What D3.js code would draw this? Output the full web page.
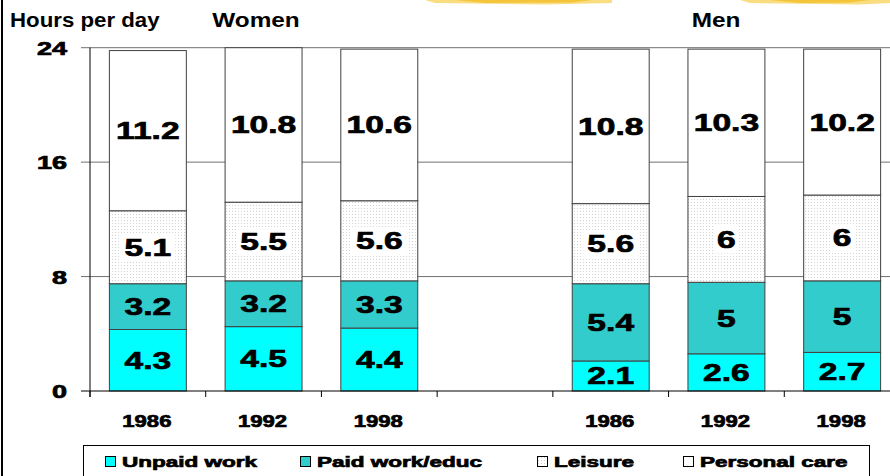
<!DOCTYPE html>
<html>
<head>
<meta charset="utf-8">
<script src="https://cdn.jsdelivr.net/npm/d3@7"></script>
<style>
  body { margin: 0; background: #fff; }
  svg { display: block; }
  text { font-family: "Liberation Sans", Arial, sans-serif; font-weight: bold; fill: #000; }
  text.heavy { stroke: #000; stroke-width: 0.7px; }
</style>
</head>
<body>
<svg width="890" height="476"></svg>
<script>
const groups = ["Women", "Men"];
const years = ["1986", "1992", "1998"];
const slots = ["W1986", "W1992", "W1998", "gap", "M1986", "M1992", "M1998"];
const slotLabels = ["1986", "1992", "1998", "", "1986", "1992", "1998"];
const bars = ["W1986", "W1992", "W1998", "M1986", "M1992", "M1998"];

const unpaidWork = [4.3, 4.5, 4.4, 2.1, 2.6, 2.7];
const paidWork = [3.2, 3.2, 3.3, 5.4, 5, 5];
const leisure = [5.1, 5.5, 5.6, 5.6, 6, 6];
const personalCare = [11.2, 10.8, 10.6, 10.8, 10.3, 10.2];

const seriesNames = ["Unpaid work", "Paid work/educ", "Leisure", "Personal care"];
const yTicks = [0, 8, 16, 24];

const svg = d3.select("svg");

let attr_area = {
    left: 90,
    right: 900,
    top: 47.7,
    bottom: 391
};

// stretched text helper (the original picture is widened horizontally)
function label(g, x, y, txt, size, sx, anchor, heavy) {
    return g.append("text")
        .attr("class", heavy ? "heavy" : null)
        .attr("transform", `translate(${x},${y}) scale(${sx},1)`)
        .attr("text-anchor", anchor || "middle")
        .style("font-size", size + "px")
        .text(txt);
}

// dotted pattern for leisure
const defs = svg.append("defs");
const pat = defs.append("pattern")
    .attr("id", "dots")
    .attr("width", 3).attr("height", 3)
    .attr("patternUnits", "userSpaceOnUse");
pat.append("rect").attr("width", 3).attr("height", 3).attr("fill", "#fff");
pat.append("rect").attr("x", 1).attr("y", 1).attr("width", 1).attr("height", 1).attr("fill", "#d2d2d2");

const colors = ["#00ffff", "#33cccc", "url(#dots)", "#ffffff"];

// yellow brush decoration at top
const brush = [[425, 612], [740, 890]];
brush.forEach(b => {
    svg.append("path")
        .attr("d", `M${b[0]},0 L${b[1]},0 L${b[1]},3 L${b[0] + 120},4.5 L${b[0] + 10},3 Z`)
        .attr("fill", "#f8d460")
        .attr("opacity", 0.8);
    svg.append("path")
        .attr("d", `M${b[0] + 30},0 L${b[1] - 20},0 L${b[1] - 40},2.5 L${b[0] + 60},3 Z`)
        .attr("fill", "#f0b000")
        .attr("opacity", 0.55);
});

// left frame line
svg.append("rect").attr("x", 1).attr("y", 0).attr("width", 2).attr("height", 476).attr("fill", "#000");

let scaleX = d3.scaleBand()
    .domain(slots)
    .range([attr_area.left, attr_area.right])
    .paddingInner(0.335)
    .paddingOuter(0.1675);

let scaleY = d3.scaleLinear()
    .domain([0, 24])
    .range([attr_area.bottom, attr_area.top]);

// gridlines + y ticks
svg.selectAll(".grid")
    .data(yTicks.filter(d => d > 0))
    .enter()
    .append("line")
    .attr("x1", 81).attr("x2", 890)
    .attr("y1", d => scaleY(d)).attr("y2", d => scaleY(d))
    .attr("stroke", "#707070")
    .attr("stroke-width", 1);

yTicks.forEach(t => {
    label(svg, 67, scaleY(t) + 7, String(t), 18, 1.5, "end", true);
});

// titles
label(svg, 10, 27, "Hours per day", 21, 1.06, "start");
label(svg, 256, 27, groups[0], 21, 1.16, "middle");
label(svg, 716, 27, groups[1], 21, 1.16, "middle");

// stacked bars
const series = [unpaidWork, paidWork, leisure, personalCare];
const barW = scaleX.bandwidth();

bars.forEach((key, i) => {
    let base = 0;
    series.forEach((s, k) => {
        const v = s[i];
        const y0 = scaleY(base);
        const y1 = scaleY(base + v);
        svg.append("rect")
            .attr("x", scaleX(key))
            .attr("y", y1)
            .attr("width", barW)
            .attr("height", y0 - y1)
            .attr("fill", colors[k])
            .attr("stroke", "#404040")
            .attr("stroke-width", 1);
        base += v;
    });
});

// value labels
bars.forEach((key, i) => {
    let base = 0;
    series.forEach((s, k) => {
        const v = s[i];
        const cy = (scaleY(base) + scaleY(base + v)) / 2;
        const cx = scaleX(key) + barW / 2;
        if (k === 2) {
            const w = String(v).length * 15 + 10;
            svg.append("rect")
                .attr("x", cx - w / 2).attr("y", cy - 14)
                .attr("width", w).attr("height", 28)
                .attr("fill", "#fff");
        }
        label(svg, cx, cy + 8.5, String(v), 24, 1.4, "middle", true);
        base += v;
    });
});

// axes
svg.append("line")
    .attr("x1", attr_area.left).attr("x2", attr_area.left)
    .attr("y1", attr_area.top).attr("y2", attr_area.bottom + 6)
    .attr("stroke", "#000");
svg.append("line")
    .attr("x1", 81).attr("x2", 890)
    .attr("y1", attr_area.bottom).attr("y2", attr_area.bottom)
    .attr("stroke", "#000");

const step = scaleX.step();
slots.forEach((s, i) => {
    const x = attr_area.left + step * i;
    svg.append("line")
        .attr("x1", x).attr("x2", x)
        .attr("y1", attr_area.bottom).attr("y2", attr_area.bottom + 6)
        .attr("stroke", "#000");
    if (slotLabels[i]) {
        label(svg, scaleX(s) + barW / 2 - 1, 427, slotLabels[i], 17, 1.3, "middle", true);
    }
});

// legend
svg.append("rect")
    .attr("x", 83.5).attr("y", 445.5)
    .attr("width", 786).attr("height", 60)
    .attr("fill", "#fff")
    .attr("stroke", "#000");

const legendX = [105, 300, 537, 683];
const legendSwatch = ["#00ffff", "#33cccc", "url(#dots)", "#ffffff"];
seriesNames.forEach((name, i) => {
    svg.append("rect")
        .attr("x", legendX[i] + 0.5).attr("y", 456.5)
        .attr("width", 10).attr("height", 10)
        .attr("fill", legendSwatch[i])
        .attr("stroke", "#000");
    label(svg, legendX[i] + 17, 467, name, 15, 1.5, "start", true);
});
</script>
</body>
</html>
